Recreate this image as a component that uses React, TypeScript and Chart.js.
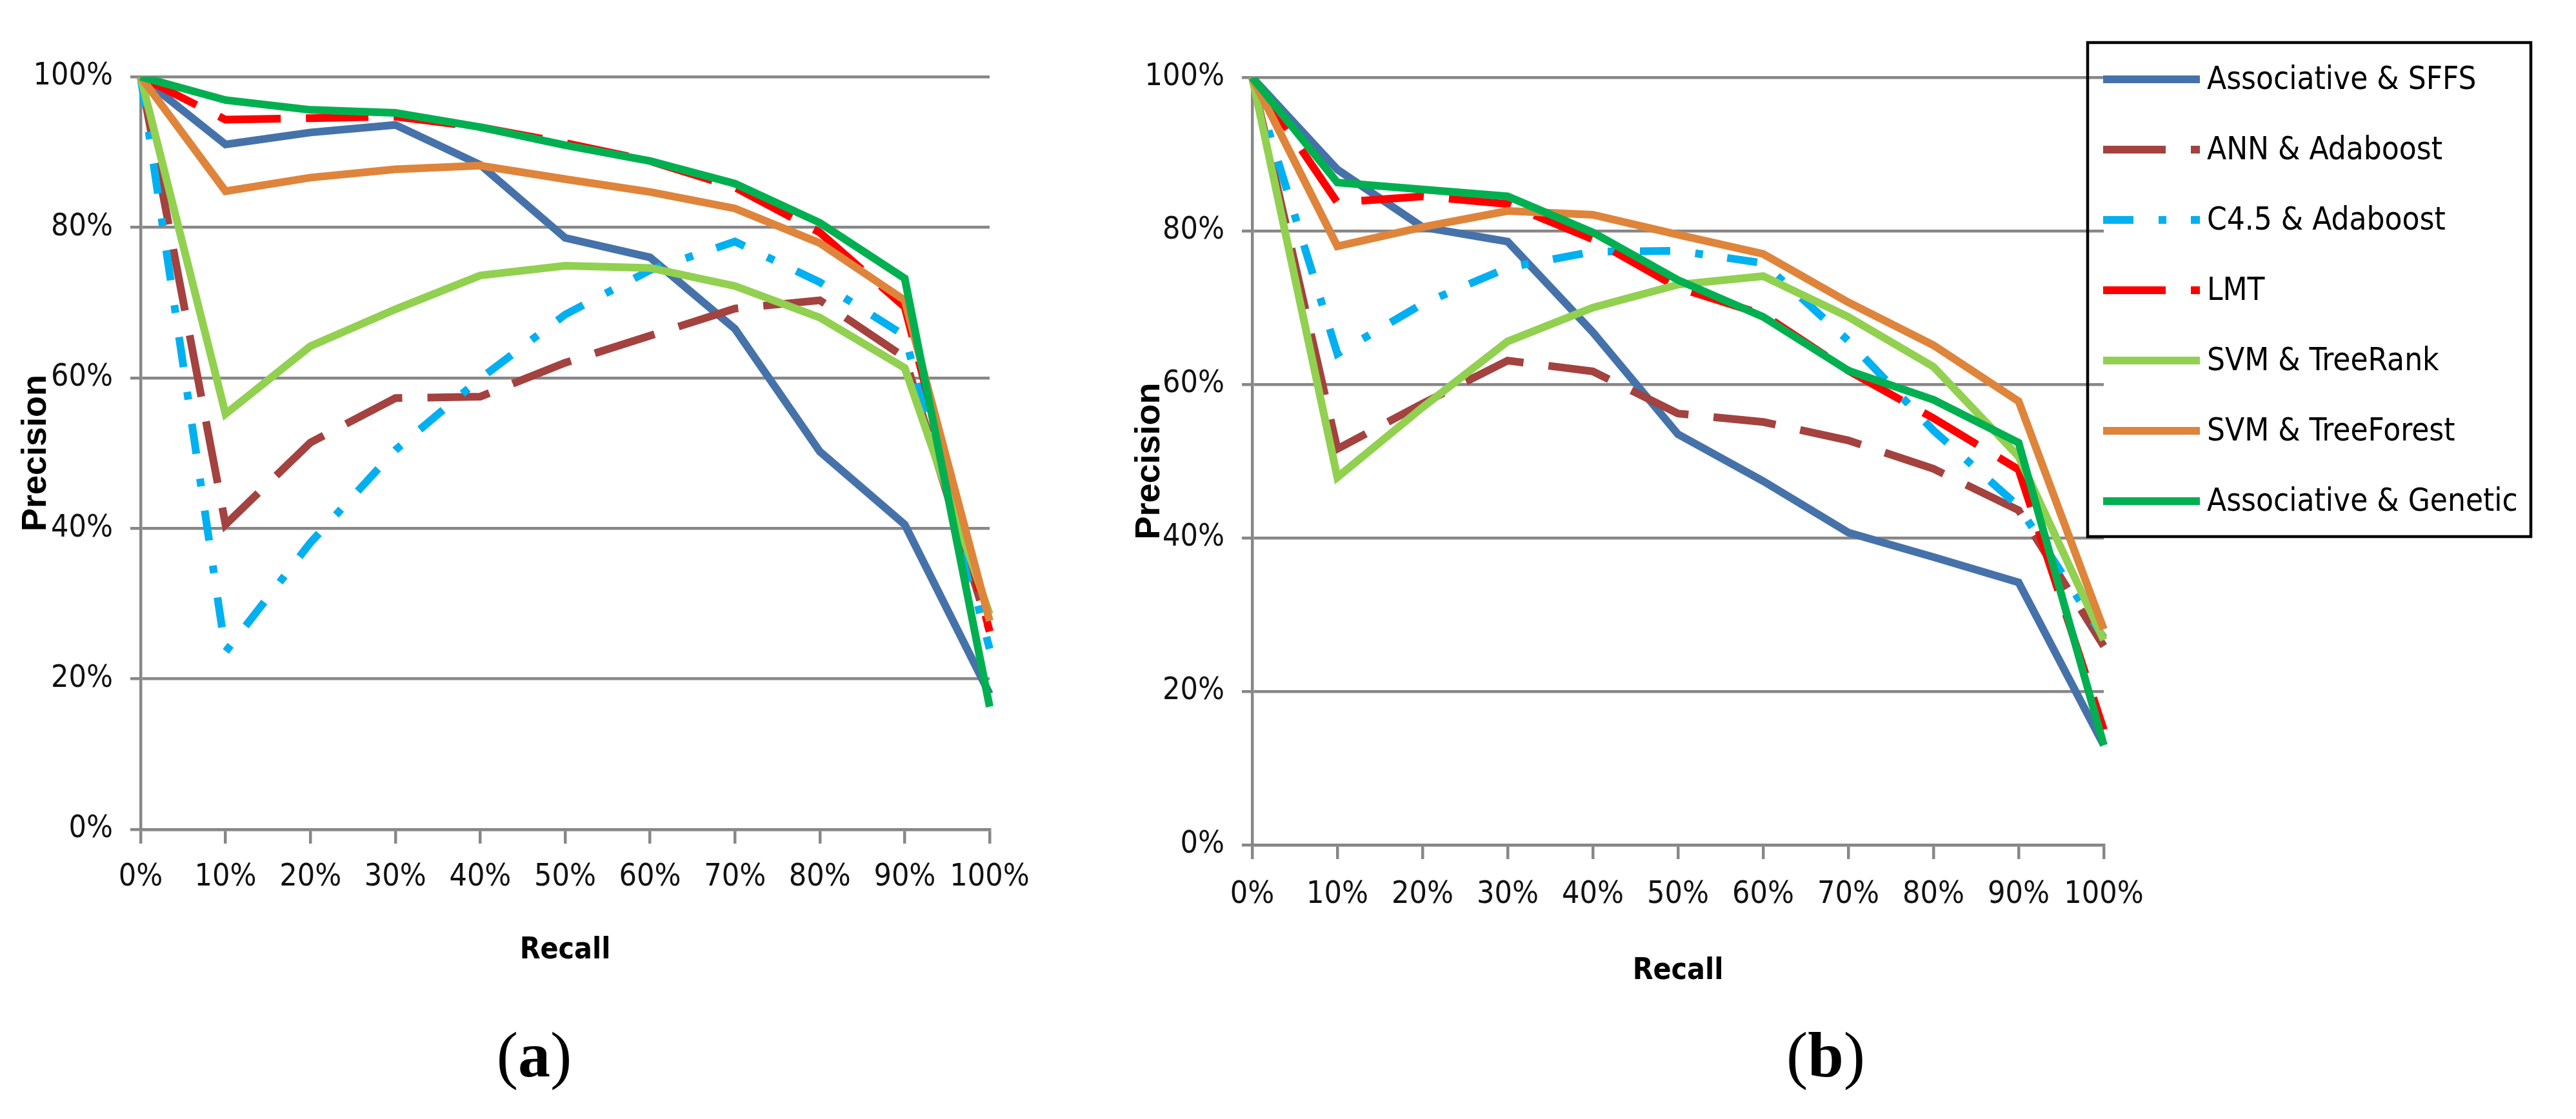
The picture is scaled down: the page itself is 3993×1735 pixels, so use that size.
import React, { useEffect, useRef } from 'react';
import { Chart, registerables } from 'chart.js';

Chart.register(...registerables);

// ---------------- data ----------------
const recallLabels = ['0%', '10%', '20%', '30%', '40%', '50%', '60%', '70%', '80%', '90%', '100%'];
const precisionTicks = [0, 20, 40, 60, 80, 100];
const seriesNames = [
  'Associative & SFFS',
  'ANN & Adaboost',
  'C4.5 & Adaboost',
  'LMT',
  'SVM & TreeRank',
  'SVM & TreeForest',
  'Associative & Genetic',
];

// panel (a)
const aAssociativeSFFS = [100, 91.0, 92.6, 93.6, 88.3, 78.6, 76.0, 66.5, 50.2, 40.5, 18.0];
const aAnnAdaboost = [100, 40.5, 51.4, 57.3, 57.5, 62.0, 65.6, 69.2, 70.3, 62.7, 26.3];
const aC45Adaboost = [100, 23.6, 38.1, 50.4, 59.9, 68.4, 74.3, 78.1, 72.7, 65.6, 24.0];
const aLMT = [100, 94.3, 94.5, 94.7, 93.3, 91.2, 88.8, 85.3, 79.3, 69.4, 26.3];
const aSvmTreeRank = [100, 55.2, 64.2, 69.1, 73.6, 74.9, 74.6, 72.2, 68.0, 61.3, 28.6];
const aSvmTreeForest = [100, 84.8, 86.6, 87.7, 88.2, 86.4, 84.7, 82.5, 77.9, 70.3, 27.7];
const aAssociativeGenetic = [100, 96.9, 95.6, 95.2, 93.3, 90.9, 88.8, 85.8, 80.6, 73.2, 16.3];

// panel (b)
const bAssociativeSFFS = [100, 88.0, 80.5, 78.6, 66.8, 53.5, 47.4, 40.7, 37.5, 34.2, 13.0];
const bAnnAdaboost = [100, 51.6, 57.5, 63.1, 61.7, 56.2, 55.1, 52.7, 49.0, 43.6, 25.9];
const bC45Adaboost = [100, 64.0, 70.5, 75.2, 77.3, 77.4, 75.8, 65.7, 54.0, 44.1, 27.0];
const bLMT = [100, 83.7, 84.5, 83.5, 78.9, 72.6, 69.1, 61.8, 55.6, 48.9, 15.0];
const bSvmTreeRank = [100, 47.9, 57.0, 65.6, 70.0, 73.0, 74.1, 68.8, 62.3, 50.6, 26.7];
const bSvmTreeForest = [100, 78.0, 80.5, 82.6, 82.1, 79.5, 77.0, 70.7, 65.1, 57.8, 28.1];
const bAssociativeGenetic = [100, 86.3, 85.4, 84.5, 79.8, 73.6, 68.8, 61.8, 58.0, 52.4, 13.0];

const panelAValues = [aAssociativeSFFS, aAnnAdaboost, aC45Adaboost, aLMT, aSvmTreeRank, aSvmTreeForest, aAssociativeGenetic];
const panelBValues = [bAssociativeSFFS, bAnnAdaboost, bC45Adaboost, bLMT, bSvmTreeRank, bSvmTreeForest, bAssociativeGenetic];

// ---------------- styles ----------------
const seriesColors = ['#4672AA', '#A3423F', '#00B0F0', '#FF0000', '#92D050', '#DF843B', '#00B050'];
const seriesDashes: number[][] = [[], [97, 39], [47, 39, 12, 38], [97, 39], [], [], []];
const LINE_W = 12;
const GRID = '#878787';
const GRID_W = 4.5;
const NARROW = "'Liberation Sans Narrow', 'DejaVu Sans Condensed', 'Arial Narrow', sans-serif";
const WIDE = "'Liberation Sans', Arial, sans-serif";
const TICK_SIZE = 48;
const LEGEND_SIZE = 49;

const boxLegend = {
  id: 'boxLegend',
  afterDraw(chart: any, _args: any, opts: any) {
    if (!opts || !opts.show) return;
    const ctx = chart.ctx;
    ctx.save();
    ctx.lineWidth = opts.borderWidth;
    ctx.strokeStyle = '#000';
    ctx.setLineDash([]);
    ctx.strokeRect(opts.left, opts.top, opts.width, opts.height);
    chart.data.datasets.forEach((ds: any, i: number) => {
      const y = opts.firstRowY + i * opts.rowGap;
      ctx.beginPath();
      ctx.setLineDash(ds.borderDash || []);
      ctx.lineCap = 'butt';
      ctx.lineWidth = ds.borderWidth;
      ctx.strokeStyle = ds.borderColor;
      ctx.moveTo(opts.sampleX, y);
      ctx.lineTo(opts.sampleX + opts.sampleLength, y);
      ctx.stroke();
      ctx.setLineDash([]);
      ctx.fillStyle = '#000';
      ctx.font = `${opts.fontSize}px ${NARROW}`;
      ctx.textBaseline = 'middle';
      ctx.textAlign = 'left';
      ctx.fillText(ds.label, opts.textX, y + 2);
    });
    ctx.restore();
  },
};

type Geom = {
  width: number;
  height: number;
  areaLeft: number;
  areaTop: number;
  areaRight: number;
  areaBottom: number;
  xAxisHeight: number;
  xTickPad: number;
  xTitlePad: number;
  yTitlePad: number;
  legend?: any;
};

function makeConfig(values: number[][], g: Geom): any {
  const n = values.length;
  return {
    type: 'line',
    data: {
      labels: recallLabels,
      datasets: values.map((v, i) => ({
        label: seriesNames[i],
        data: v,
        borderColor: seriesColors[i],
        backgroundColor: seriesColors[i],
        borderWidth: LINE_W,
        borderDash: seriesDashes[i],
        borderCapStyle: 'butt',
        borderJoinStyle: 'miter',
        pointRadius: 0,
        pointHoverRadius: 0,
        tension: 0,
        fill: false,
        order: n - 1 - i,
      })),
    },
    plugins: [boxLegend],
    options: {
      responsive: false,
      maintainAspectRatio: false,
      animation: false,
      devicePixelRatio: 1,
      events: [],
      layout: {
        padding: {
          left: 0,
          top: g.areaTop,
          right: g.width - g.areaRight,
          bottom: g.height - g.areaBottom - g.xAxisHeight,
        },
      },
      plugins: {
        legend: { display: false },
        tooltip: { enabled: false },
        title: { display: false },
        boxLegend: g.legend ? { show: true, ...g.legend } : { show: false },
      },
      scales: {
        x: {
          type: 'category',
          offset: false,
          afterFit(scale: any) {
            scale.height = g.xAxisHeight;
          },
          grid: {
            display: true,
            drawOnChartArea: false,
            drawTicks: true,
            tickLength: 22,
            color: GRID,
            lineWidth: GRID_W,
          },
          border: { display: true, color: GRID, width: GRID_W },
          ticks: {
            color: '#111',
            font: { family: NARROW, size: TICK_SIZE, lineHeight: 1.2 },
            padding: g.xTickPad,
            maxRotation: 0,
            minRotation: 0,
            autoSkip: false,
          },
          title: {
            display: true,
            text: 'Recall',
            color: '#000',
            font: { family: NARROW, size: 46, weight: 'bold', lineHeight: 1.2 },
            padding: { top: 0, bottom: g.xTitlePad },
          },
        },
        y: {
          type: 'linear',
          min: 0,
          max: 100,
          afterFit(scale: any) {
            scale.width = g.areaLeft;
          },
          afterBuildTicks(scale: any) {
            scale.ticks = precisionTicks.map((v) => ({ value: v }));
          },
          grid: {
            display: true,
            drawOnChartArea: true,
            drawTicks: true,
            tickLength: 16,
            color: GRID,
            lineWidth: GRID_W,
          },
          border: { display: true, color: GRID, width: GRID_W },
          ticks: {
            color: '#111',
            font: { family: NARROW, size: TICK_SIZE, lineHeight: 1.2 },
            padding: 27,
            callback: (v: any) => `${v}%`,
          },
          title: {
            display: true,
            text: 'Precision',
            color: '#000',
            font: { family: WIDE, size: 54, weight: 'bold', lineHeight: 1.2 },
            padding: { top: g.yTitlePad, bottom: 0 },
          },
        },
      },
    },
  };
}

const A_LEFT = 0;
const B_LEFT = 1720;

const geomA: Geom = {
  width: 1720,
  height: 1570,
  areaLeft: 218,
  areaTop: 119,
  areaRight: 1534,
  areaBottom: 1286,
  xAxisHeight: 220,
  xTickPad: 24,
  xTitlePad: 4,
  yTitlePad: 24,
};

const geomB: Geom = {
  width: 2273,
  height: 1570,
  areaLeft: 1941 - B_LEFT,
  areaTop: 120,
  areaRight: 3261 - B_LEFT,
  areaBottom: 1310,
  xAxisHeight: 230,
  xTickPad: 27,
  xTitlePad: 6,
  yTitlePad: 30,
  legend: {
    left: 3236 - B_LEFT,
    top: 66,
    width: 687,
    height: 766,
    borderWidth: 4.5,
    firstRowY: 123,
    rowGap: 109,
    sampleX: 3260 - B_LEFT,
    sampleLength: 150,
    textX: 3421 - B_LEFT,
    fontSize: LEGEND_SIZE,
  },
};

function PanelLabel({ letter, cx }: { letter: string; cx: number }) {
  return (
    <div
      style={{
        position: 'absolute',
        left: cx - 200,
        top: 1586,
        width: 400,
        textAlign: 'center',
        fontFamily: "'Liberation Serif', 'Times New Roman', serif",
        fontSize: 100,
        lineHeight: '100px',
        color: '#000',
      }}
    >
      (<b>{letter}</b>)
    </div>
  );
}

export default function App() {
  const refA = useRef<HTMLCanvasElement | null>(null);
  const refB = useRef<HTMLCanvasElement | null>(null);

  useEffect(() => {
    const charts: Chart[] = [];
    if (refA.current) charts.push(new Chart(refA.current, makeConfig(panelAValues, geomA)));
    if (refB.current) charts.push(new Chart(refB.current, makeConfig(panelBValues, geomB)));
    return () => charts.forEach((c) => c.destroy());
  }, []);

  return (
    <div style={{ position: 'absolute', left: 0, top: 0, width: 3993, height: 1735, background: '#fff', overflow: 'hidden' }}>
      <canvas
        ref={refA}
        width={geomA.width}
        height={geomA.height}
        style={{ position: 'absolute', left: A_LEFT, top: 0, width: geomA.width, height: geomA.height }}
      />
      <canvas
        ref={refB}
        width={geomB.width}
        height={geomB.height}
        style={{ position: 'absolute', left: B_LEFT, top: 0, width: geomB.width, height: geomB.height }}
      />
      <PanelLabel letter="a" cx={828} />
      <PanelLabel letter="b" cx={2830} />
    </div>
  );
}
